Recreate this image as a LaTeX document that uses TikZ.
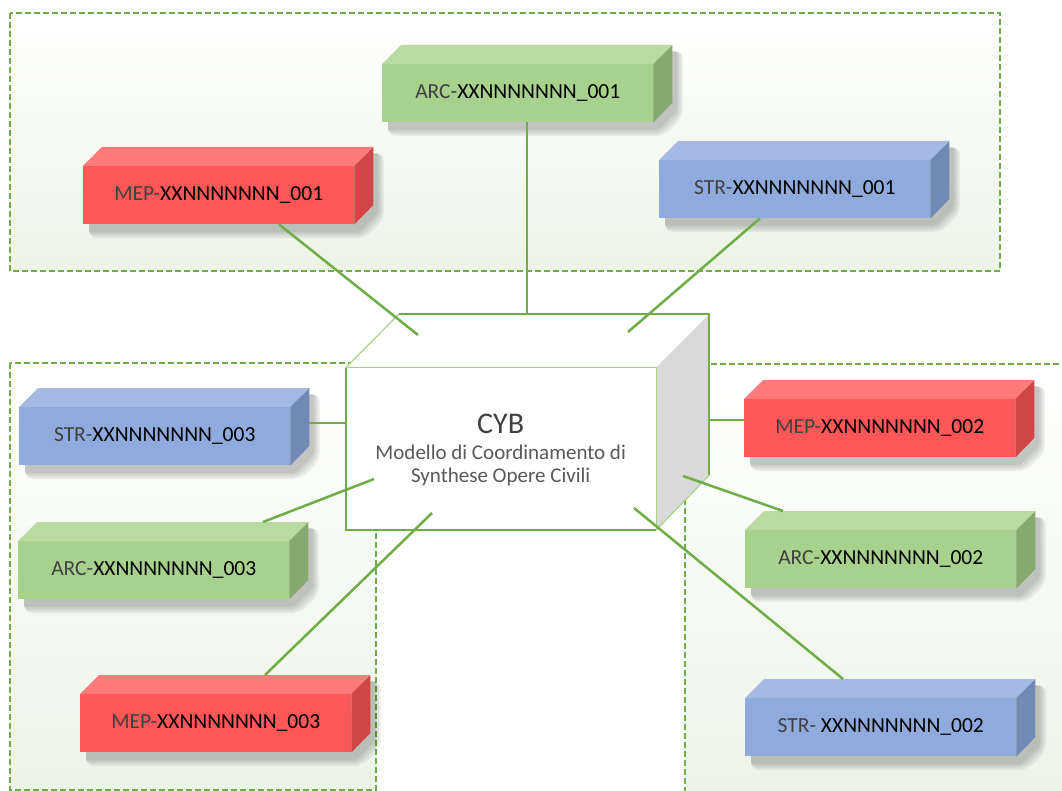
\documentclass[tikz,border=0pt]{standalone}
\usepackage{fontspec}
\setmainfont{Carlito}
\usetikzlibrary{calc}
\definecolor{lg}{HTML}{70AD47}
\definecolor{lgl}{HTML}{A9D18E}
\definecolor{grpbg}{HTML}{ECF4E6}
\definecolor{gF}{HTML}{A9D18E}\definecolor{gT}{HTML}{B9DAA3}\definecolor{gS}{HTML}{87A96F}
\definecolor{rF}{HTML}{FF5757}\definecolor{rT}{HTML}{FF7A7A}\definecolor{rS}{HTML}{D04545}
\definecolor{bF}{HTML}{8FAADC}\definecolor{bT}{HTML}{A6B9E3}\definecolor{bS}{HTML}{7389B5}
\definecolor{pre}{HTML}{404040}
\definecolor{cybtxt}{HTML}{595959}
\definecolor{sideg}{HTML}{D9D9D9}
\tikzset{
  grp/.style={draw=lg, line width=2.4pt, dash pattern=on 6pt off 3pt, top color=white, bottom color=grpbg},
  conn/.style={draw=lg, line width=2.5pt},
  face/.style={inner sep=0pt, minimum width=271pt, minimum height=58pt, anchor=north west,
    font=\fontsize{21.5}{25}\selectfont},
}
% name, x, y, front, top, side, prefix, suffix
\newcommand\modbox[8]{%
  \foreach \k in {8,6,4,2}{%
    \fill[black,opacity=0.06,rounded corners=\k pt]
      (#2+6,#3+6) -- (#2+293+\k,#3-13) -- (#2+293+\k,#3+45+\k)
      -- (#2+274+\k,#3+64+\k) -- (#2+6,#3+64+\k) -- cycle;
  }
  \node[face, fill=#4] (#1) at (#2,#3) {\textcolor{pre}{#7}#8};
  \fill[#5] (#1.north west) -- ++(19,-19) -- ++(271,0) -- (#1.north east) -- cycle;
  \fill[#6] (#1.north east) -- ++(19,-19) -- ++(0,58) -- (#1.south east) -- cycle;
}
\begin{document}
\begin{tikzpicture}[x=1pt,y=-1pt]
\useasboundingbox (0,0) rectangle (1062,791);
\clip (0,0) rectangle (1062,791);
\fill[white] (0,0) rectangle (1062,791);
% groups
\path[grp] (10,13) rectangle (1000,271);
\path[grp] (10,363) rectangle (376,790);
\path[grp] (685,364) rectangle (1075,800);
% central box
\node[inner sep=0pt, minimum width=310pt, minimum height=162pt, anchor=north west, fill=white] (cyb) at (345.7,367.7) {};
\fill[white] (cyb.north west) -- ++(53.3,-53.7) -- ++(310,0) -- (cyb.north east) -- cycle;
\fill[sideg] (cyb.north east) -- ++(53.3,-53.7) -- ++(0,161) -- (cyb.south east) -- cycle;
\draw[lgl, line width=1.2pt] (cyb.north west) -- ++(53.3,-53.7);
\draw[lgl, line width=1.2pt] (cyb.north west) -- (cyb.north east) -- (cyb.south east);
\draw[lgl, line width=1.2pt] (cyb.south east) -- ++(53.3,-55);
\draw[lg, line width=2pt] (cyb.north west) -- (cyb.south west) -- (cyb.south east);
\draw[lg, line width=2pt] ($(cyb.north west)+(53.3,-53.7)$) -- ++(310,0) -- ++(0,161);
\node[anchor=base, text=pre, font=\fontsize{30}{34}\selectfont, inner sep=0pt] (cybtitle) at (500.7,433) {CYB};
\node[anchor=base, text=cybtxt, font=\fontsize{21}{25}\selectfont, inner sep=0pt] (cybsubA) at (500.7,459) {Modello di Coordinamento di};
\node[anchor=base, text=cybtxt, font=\fontsize{21}{25}\selectfont, inner sep=0pt] (cybsubB) at (500.7,482) {Synthese Opere Civili};
% inner end points
\coordinate (cA) at (418,335);
\coordinate (cB) at (527,314);
\coordinate (cC) at (628,332);
\coordinate (cD) at (345.7,423);
\coordinate (cE) at (374,479);
\coordinate (cF) at (432,513);
\coordinate (cG) at (709,420);
\coordinate (cH) at (683,476);
\coordinate (cI) at (634,508);
% module boxes
\modbox{arcA}{382}{64}{gF}{gT}{gS}{ARC-}{XXNNNNNNN\_001}
\modbox{mepA}{83}{166}{rF}{rT}{rS}{MEP-}{XXNNNNNNN\_001}
\modbox{strA}{659}{160}{bF}{bT}{bS}{STR-}{XXNNNNNNN\_001}
\modbox{strC}{19}{407}{bF}{bT}{bS}{STR-}{XXNNNNNNN\_003}
\modbox{arcC}{18}{541}{gF}{gT}{gS}{ARC-}{XXNNNNNNN\_003}
\modbox{mepC}{80}{694}{rF}{rT}{rS}{MEP-}{XXNNNNNNN\_003}
\modbox{mepB}{744}{399}{rF}{rT}{rS}{MEP-}{XXNNNNNNN\_002}
\modbox{arcB}{745}{530}{gF}{gT}{gS}{ARC-}{XXNNNNNNN\_002}
\modbox{strB}{745}{698}{bF}{bT}{bS}{STR- }{XXNNNNNNN\_002}
% connectors
\draw[conn] ($(mepA.south west)+(196,0)$) -- (cA);
\draw[conn] ($(arcA.south west)+(145,0)$) -- (cB);
\draw[conn] ($(strA.south west)+(101,0)$) -- (cC);
\draw[conn] ($(strC.north east)+(19,16)$) -- (cD);
\draw[conn] ($(arcC.north west)+(245,-19)$) -- (cE);
\draw[conn] ($(mepC.north west)+(185,-19)$) -- (cF);
\draw[conn] ($(mepB.north west)+(0,21)$) -- (cG);
\draw[conn] ($(arcB.north west)+(38,-19)$) -- (cH);
\draw[conn] ($(strB.north west)+(98,-19)$) -- (cI);
\end{tikzpicture}
\end{document}
